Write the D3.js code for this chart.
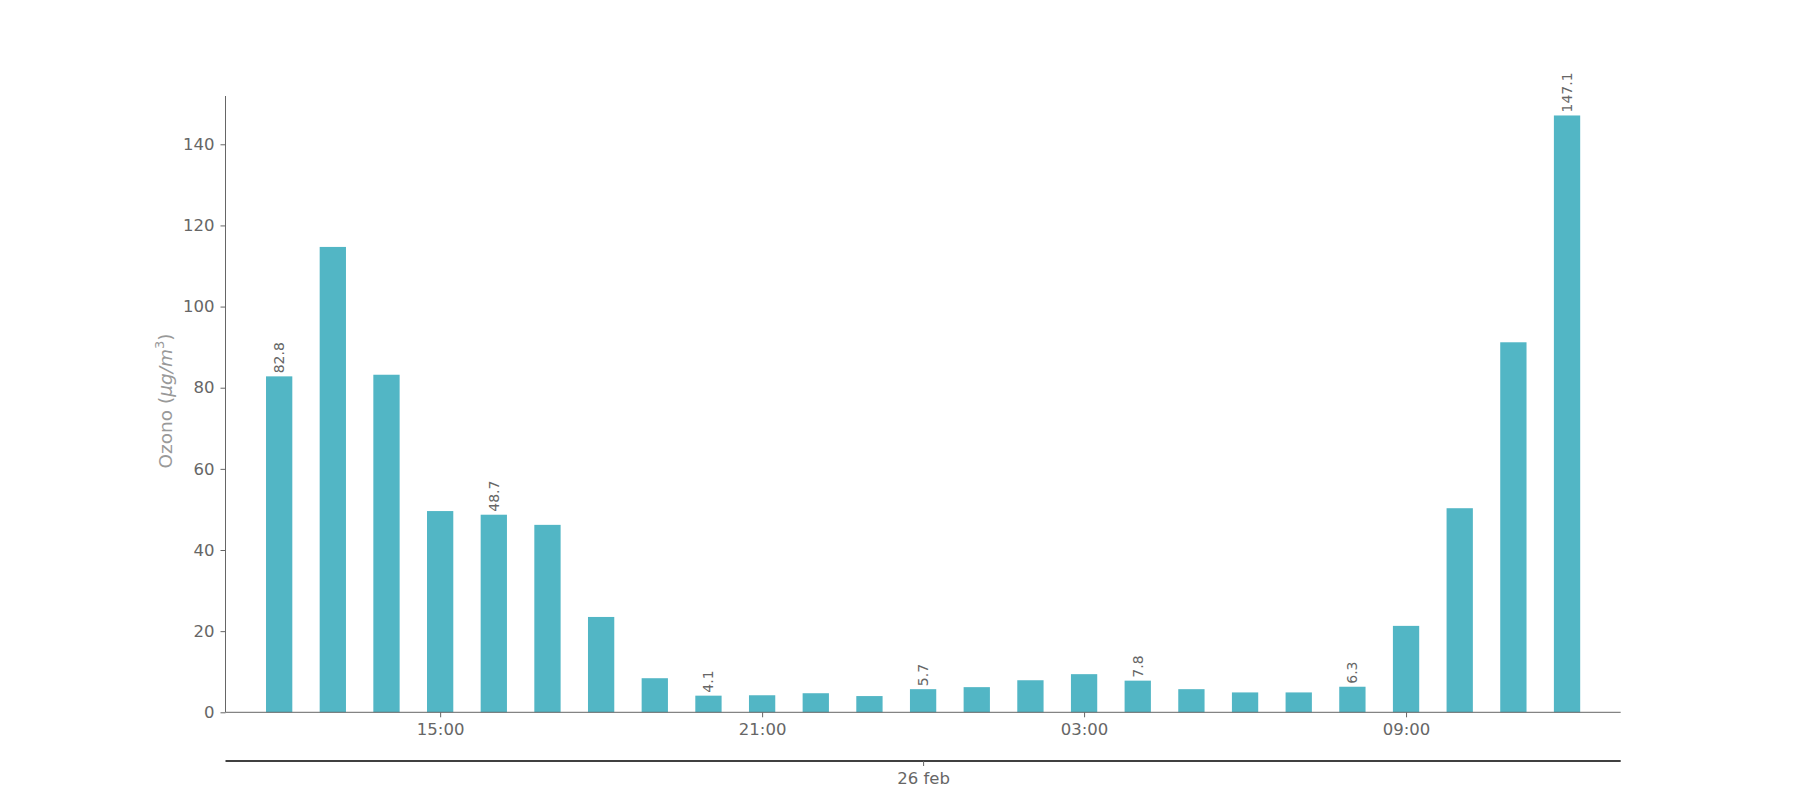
<!DOCTYPE html>
<html>
<head>
<meta charset="utf-8">
<script src="https://cdn.jsdelivr.net/npm/d3@7"></script>
<style>
  body { margin: 0; background: #fff; }
  svg { display: block; font-family: "DejaVu Sans", sans-serif; }
</style>
</head>
<body>
<svg id="chart" width="1800" height="800"></svg>
<script>
const hours = ["12:00","13:00","14:00","15:00","16:00","17:00","18:00","19:00","20:00","21:00","22:00","23:00","00:00","01:00","02:00","03:00","04:00","05:00","06:00","07:00","08:00","09:00","10:00","11:00","12:00"];
const ozone = [82.8,114.7,83.2,49.6,48.7,46.2,23.5,8.4,4.1,4.2,4.7,4.0,5.7,6.2,7.9,9.4,7.8,5.7,4.9,4.9,6.3,21.3,50.3,91.2,147.1];
const xTickLabels = ["15:00","21:00","03:00","09:00"];
const xTickIdx = [3, 9, 15, 21];
const yTicks = [0,20,40,60,80,100,120,140];
const labelIdx = [0,4,8,12,16,20,24];
const dateLabel = "26 feb";

(function () {
const mLeft = 225.5, mRight = 1620.7, mTop = 96, mBottom = 712.3;
const svg = d3.select("#chart");

const x = d3.scaleLinear().domain([-1, ozone.length]).range([mLeft, mRight]);
const y = d3.scaleLinear().domain([0, 151.9]).range([mBottom, mTop]);
const step = x(1) - x(0);
const bw = step * 0.49;

const barColor = "#52b6c5";
const axisColor = "#666";
const textColor = "#666";
const tickFont = 16.5;

// bars
svg.append("g").selectAll("rect").data(ozone).join("rect")
  .attr("x", (d, i) => x(i) - bw / 2)
  .attr("y", d => y(d))
  .attr("width", bw)
  .attr("height", d => y(0) - y(d))
  .attr("fill", barColor);

// value labels
svg.append("g").selectAll("text").data(labelIdx).join("text")
  .attr("transform", i => `translate(${x(i) + 5},${y(ozone[i]) - 3}) rotate(-90)`)
  .attr("text-anchor", "start")
  .attr("font-size", 14)
  .attr("fill", textColor)
  .text(i => ozone[i].toFixed(1));

// y axis
const yAxis = svg.append("g").attr("transform", `translate(${mLeft},0)`)
  .call(d3.axisLeft(y).tickValues(yTicks).tickSize(5).tickPadding(6).tickFormat(d3.format("d")));
yAxis.select(".domain").attr("stroke", axisColor).attr("d", `M0,${mBottom}V${mTop}`);
yAxis.selectAll(".tick line").attr("stroke", axisColor);
yAxis.selectAll(".tick text").attr("fill", textColor).attr("font-size", tickFont)
  .attr("font-family", "DejaVu Sans, sans-serif");

// x axis
const xAxis = svg.append("g").attr("transform", `translate(0,${mBottom})`)
  .call(d3.axisBottom(x).tickValues(xTickIdx).tickSize(5).tickPadding(6)
    .tickFormat((d, i) => xTickLabels[i]));
xAxis.select(".domain").attr("stroke", axisColor).attr("d", `M${mLeft},0H${mRight}`);
xAxis.selectAll(".tick line").attr("stroke", axisColor);
xAxis.selectAll(".tick text").attr("fill", textColor).attr("font-size", tickFont)
  .attr("font-family", "DejaVu Sans, sans-serif");

// secondary date axis
const dateY = 761;
const dAxis = svg.append("g").attr("transform", `translate(0,${dateY})`)
  .call(d3.axisBottom(x).tickValues([(x.domain()[0] + x.domain()[1]) / 2]).tickSize(5).tickPadding(6)
    .tickFormat(() => dateLabel));
dAxis.select(".domain").attr("stroke", "#000").attr("stroke-width", 1.4).attr("d", `M${mLeft},0H${mRight}`);
dAxis.selectAll(".tick line").attr("stroke", axisColor);
dAxis.selectAll(".tick text").attr("fill", textColor).attr("font-size", tickFont)
  .attr("font-family", "DejaVu Sans, sans-serif");

// y label
const yl = svg.append("text")
  .attr("transform", `translate(172,401) rotate(-90)`)
  .attr("text-anchor", "middle")
  .attr("font-size", 18.5)
  .attr("fill", "#999");
yl.append("tspan").text("Ozono (");
yl.append("tspan").attr("font-style", "italic").text("μg/m");
yl.append("tspan").attr("font-size", 13).attr("dy", -8).text("3");
yl.append("tspan").attr("dy", 8).text(")");
})();
</script>
</body>
</html>
